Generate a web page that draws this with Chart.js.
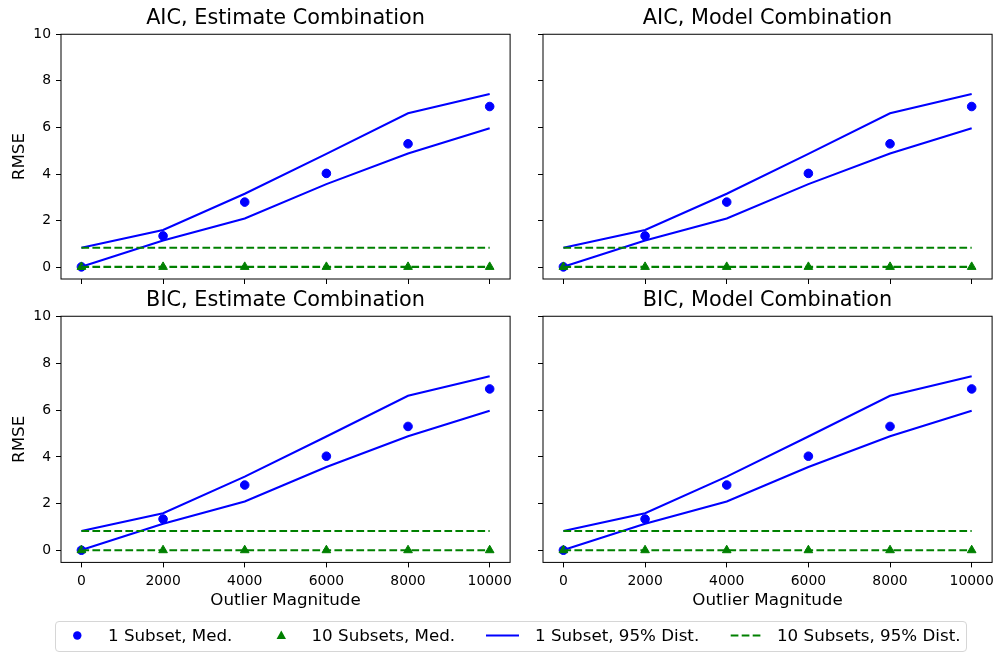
<!DOCTYPE html>
<html>
<head>
<meta charset="utf-8">
<script src="https://cdn.jsdelivr.net/npm/chart.js@4/dist/chart.umd.min.js"></script>
<style>
  body { margin: 0; background: #fff; }
  #page { position: relative; width: 1004px; height: 661px; font-family: "DejaVu Sans", sans-serif; }
  .panel { position: absolute; }
  .legend-box { position: absolute; left: 55px; top: 621px; width: 912px; height: 31px; box-sizing: border-box;
                border: 1px solid #d6d6d6; border-radius: 4px; }
  .legend-text { position: absolute; top: 624px; font-size: 16.7px; line-height: 22px; color: #000; white-space: nowrap; }
</style>
</head>
<body>
<div id="page">
  <div class="panel" id="p0"><canvas id="c0"></canvas></div>
  <div class="panel" id="p1"><canvas id="c1"></canvas></div>
  <div class="panel" id="p2"><canvas id="c2"></canvas></div>
  <div class="panel" id="p3"><canvas id="c3"></canvas></div>

  <div class="legend-box"></div>
  <svg style="position:absolute;left:0;top:0" width="1004" height="661">
    <circle cx="77.3" cy="635.5" r="4.2" fill="#0000ff"/>
    <polygon points="281.3,630.5 286,639 276.6,639" fill="#008000"/>
    <line x1="486" y1="635.5" x2="519" y2="635.5" stroke="#0000ff" stroke-width="2.1"/>
    <line x1="730.7" y1="635.5" x2="763.7" y2="635.5" stroke="#008000" stroke-width="2.1" stroke-dasharray="7.7,3.3"/>
  </svg>
  <span class="legend-text" style="left:108px">1 Subset, Med.</span>
  <span class="legend-text" style="left:311.5px">10 Subsets, Med.</span>
  <span class="legend-text" style="left:535px">1 Subset, 95% Dist.</span>
  <span class="legend-text" style="left:777px">10 Subsets, 95% Dist.</span>
</div>

<script>
// Data (all four panels show the same values)
const titles = ["AIC, Estimate Combination", "AIC, Model Combination",
                "BIC, Estimate Combination", "BIC, Model Combination"];
const magnitudes = [0, 2000, 4000, 6000, 8000, 10000];
const med1 = [0.02, 1.35, 2.80, 4.03, 5.30, 6.90];
const med10 = [0.02, 0.02, 0.02, 0.02, 0.02, 0.02];
const upper1 = [0.84, 1.60, 3.16, 4.87, 6.61, 7.44];
const lower1 = [0.03, 1.15, 2.10, 3.57, 4.88, 5.97];
const upper10 = [0.84, 0.84, 0.84, 0.84, 0.84, 0.84];
const lower10 = [0.02, 0.02, 0.02, 0.02, 0.02, 0.02];
const xTicks = [0, 2000, 4000, 6000, 8000, 10000];
const yTicks = [0, 2, 4, 6, 8, 10];

Chart.defaults.font.family = "'DejaVu Sans', sans-serif";
Chart.defaults.color = '#000';

const BLUE = '#0000ff';
const GREEN = '#008000';
const DASH = [7.7, 3.3];

const pts = ys => magnitudes.map((x, i) => ({ x: x, y: ys[i] }));

// draws the full box round the plot area, like matplotlib spines
const framePlugin = {
  id: 'frame',
  afterDraw(chart) {
    const a = chart.chartArea, c = chart.ctx;
    c.save();
    c.strokeStyle = '#000';
    c.lineWidth = 1;
    c.strokeRect(a.left, a.top, a.right - a.left, a.bottom - a.top);
    c.restore();
  }
};

const TITLE_H = 24.96 + 3.3;
const PAD_R = 9;

function makePanel(i, L, T, R, B, bottomRow, leftCol) {
  const yw = leftCol ? 56 : 8;
  const xh = bottomRow ? 50 : 15;
  const div = document.getElementById('p' + i);
  div.style.left = (L - yw) + 'px';
  div.style.top = (T - TITLE_H) + 'px';
  div.style.width = (yw + (R - L) + PAD_R) + 'px';
  div.style.height = (TITLE_H + (B - T) + xh) + 'px';

  new Chart(document.getElementById('c' + i), {
    data: {
      datasets: [
        { type: 'scatter', label: '1 Subset, Med.', data: pts(med1), backgroundColor: BLUE, borderColor: BLUE,
          pointStyle: 'circle', pointRadius: 4.3, order: 6 },
        { type: 'scatter', label: '10 Subsets, Med.', data: pts(med10), backgroundColor: GREEN, borderColor: GREEN,
          pointStyle: 'triangle', pointRadius: 5, order: 5 },
        { type: 'line', label: '1 Subset, 95% Dist.', data: pts(upper1), borderColor: BLUE, borderWidth: 2.1,
          pointRadius: 0, fill: false, tension: 0, order: 4 },
        { type: 'line', label: '1 Subset, 95% Dist. (low)', data: pts(lower1), borderColor: BLUE, borderWidth: 2.1,
          pointRadius: 0, fill: false, tension: 0, order: 3 },
        { type: 'line', label: '10 Subsets, 95% Dist.', data: pts(upper10), borderColor: GREEN, borderWidth: 2.1,
          borderDash: DASH, pointRadius: 0, fill: false, tension: 0, order: 2 },
        { type: 'line', label: '10 Subsets, 95% Dist. (low)', data: pts(lower10), borderColor: GREEN, borderWidth: 2.1,
          borderDash: DASH, pointRadius: 0, fill: false, tension: 0, order: 1 }
      ]
    },
    options: {
      responsive: true,
      maintainAspectRatio: false,
      animation: false,
      layout: { autoPadding: false, padding: { left: 0, top: 0, right: PAD_R, bottom: 0 } },
      plugins: {
        legend: { display: false },
        tooltip: { enabled: false },
        title: { display: true, fullSize: false, text: titles[i], font: { size: 20.8, weight: 'normal' },
                 color: '#000', padding: { top: 0, bottom: 3.3 } }
      },
      scales: {
        x: {
          type: 'linear', min: -500, max: 10500,
          afterBuildTicks: s => { s.ticks = xTicks.map(v => ({ value: v })); },
          afterFit: s => { s.height = xh; },
          grid: { drawOnChartArea: false, drawTicks: true, tickLength: 5, color: '#000' },
          border: { display: false },
          ticks: { display: bottomRow, font: { size: 13.9 }, padding: 6, maxRotation: 0, autoSkip: false,
                   callback: v => String(v) },
          title: { display: bottomRow, text: 'Outlier Magnitude', font: { size: 16.7 }, padding: { top: 0, bottom: 2 } }
        },
        y: {
          type: 'linear', min: -0.5, max: 10,
          afterBuildTicks: s => { s.ticks = yTicks.map(v => ({ value: v })); },
          afterFit: s => { s.width = yw; },
          grid: { drawOnChartArea: false, drawTicks: true, tickLength: 5, color: '#000' },
          border: { display: false },
          ticks: { display: leftCol, font: { size: 13.9 }, padding: 5, callback: v => String(v) },
          title: { display: leftCol, text: 'RMSE', font: { size: 16.7 }, padding: { top: 5, bottom: 0 } }
        }
      }
    },
    plugins: [framePlugin]
  });
}

makePanel(0, 61.3, 34.3, 510.4, 279.0, false, true);
makePanel(1, 542.5, 34.3, 991.6, 279.0, false, false);
makePanel(2, 61.3, 316.2, 510.4, 562.3, true, true);
makePanel(3, 542.5, 316.2, 991.6, 562.3, true, false);
</script>
</body>
</html>
